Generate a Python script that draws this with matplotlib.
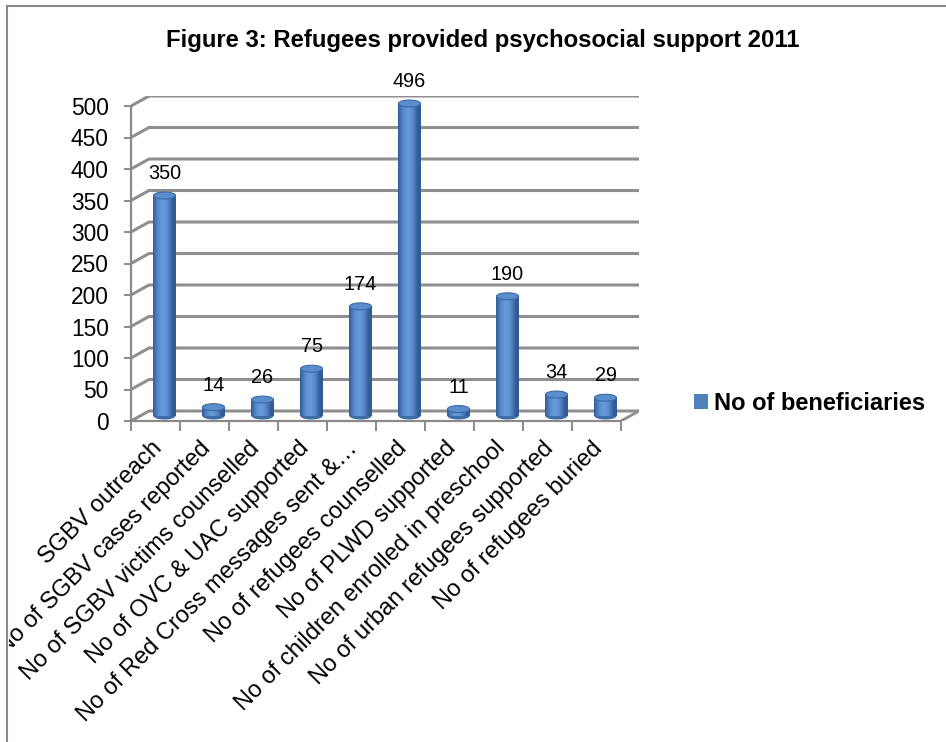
import numpy as np
import matplotlib
matplotlib.use("Agg")
import matplotlib.pyplot as plt
from matplotlib.patches import Ellipse, Patch
from matplotlib.lines import Line2D
from matplotlib.transforms import ScaledTranslation, Bbox, TransformedBbox

plt.rcParams['font.family'] = ['Liberation Sans', 'DejaVu Sans']

categories = ["SGBV outreach", "No of SGBV cases reported", "No of SGBV victims counselled",
              "No of OVC & UAC supported", "No of Red Cross messages sent &…",
              "No of refugees counselled", "No of PLWD supported",
              "No of children enrolled in preschool", "No of urban refugees supported",
              "No of refugees buried"]
values = [350, 14, 26, 75, 174, 496, 11, 190, 34, 29]
yticks = list(range(0, 501, 50))
series_name = "No of beneficiaries"
title = "Figure 3: Refugees provided psychosocial support 2011"

W, H = 946, 742
fig = plt.figure(figsize=(W / 100, H / 100), dpi=100)

# axes geometry (pixels)
x0, y0 = 131, 421          # front-bottom-left corner
ppc = 49.0                 # pixels per category
ppu = 0.63                 # pixels per unit
dpx, dpy = 18, 10          # depth offset in pixels
ddx = dpx / ppc
ddy = dpy / ppu
n = len(categories)
ax_w = n * ppc + dpx
ax_h = 500 * ppu + dpy
ax = fig.add_axes([x0 / W, (H - y0) / H, ax_w / W, ax_h / H])
ax.set_xlim(0, n + ddx)
ax.set_ylim(0, 500 + ddy)
ax.patch.set_alpha(0)

grid_c = '#8f8f8f'
# back wall gridlines + side wall diagonals
for v in yticks:
    ax.plot([0, ddx, n + ddx], [v, v + ddy, v + ddy], color=grid_c, lw=2.2,
            solid_capstyle='butt', zorder=1)
# floor
ax.plot([0, n], [0, 0], color=grid_c, lw=2.0, zorder=1)
ax.plot([n, n + ddx], [0, ddy], color=grid_c, lw=2.0, zorder=1)

for s in ['top', 'right']:
    ax.spines[s].set_visible(False)
ax.spines['left'].set_bounds(0, 500)
ax.spines['bottom'].set_bounds(0, n)
for s in ['left', 'bottom']:
    ax.spines[s].set_color('#8a8a8a')
    ax.spines[s].set_linewidth(1.6)

ax.set_yticks(yticks)
ax.set_yticklabels([str(v) for v in yticks], fontsize=16.4)
ax.tick_params(axis='y', length=5, width=1.4, color='#8a8a8a', pad=11)
ax.set_xticks(np.arange(0, n + 1))
ax.set_xticklabels([])
ax.tick_params(axis='x', length=7, width=1.4, color='#8a8a8a')

# bars (cylinders)
centers = np.arange(n) + 0.5 + ddx / 2
bw = 0.45
bars = ax.bar(centers, values, width=bw, bottom=ddy / 2, color='#4a7ebb',
              edgecolor='none', zorder=3)
shade = np.linspace(0, 1, 64)
prof = 0.55 + 0.45 * np.sin(np.pi * np.clip(shade * 1.15, 0, 1))
c_dark = np.array([0.19, 0.36, 0.58])
c_light = np.array([0.40, 0.60, 0.86])
grad = c_dark[None, :] + (c_light - c_dark)[None, :] * ((prof - prof.min()) / (prof.max() - prof.min()))[:, None]
grad = grad[None, :, :]
ell_h = 7 / ppu
for b in bars:
    bx, by, bwid, bh = b.get_x(), b.get_y(), b.get_width(), b.get_height()
    im = ax.imshow(grad, extent=[bx, bx + bwid, by, by + bh], aspect='auto',
                   zorder=3.1, interpolation='bilinear')
    im.set_clip_path(b)
    ax.add_patch(Ellipse((bx + bwid / 2, by), bwid, ell_h, facecolor='#3d6ca6',
                         edgecolor='none', zorder=2.9))
    ax.add_patch(Ellipse((bx + bwid / 2, by + bh), bwid, ell_h, facecolor='#5a8dcc',
                         edgecolor='#3c6aa3', lw=0.8, zorder=3.3))

for b, v in zip(bars, values):
    ax.annotate(str(v), (b.get_x() + b.get_width() / 2, b.get_y() + b.get_height()),
                xytext=(0, 9), textcoords='offset points', ha='center', va='bottom',
                fontsize=14.3)

# category labels (clipped at the chart frame on the left)
clip_bb = TransformedBbox(Bbox([[9 / W, 0], [1, 1]]), fig.transFigure)
off = ScaledTranslation(-6 / 100, -24 / 100, fig.dpi_scale_trans)
for c, lab in zip(centers, categories):
    t = ax.text(c, 0, lab, transform=ax.transData + off, rotation=45,
                rotation_mode='anchor', ha='right', va='center', fontsize=17, zorder=5)
    t.set_clip_box(clip_bb)
    t.set_clip_on(True)

fig.text(483 / W, 1 - 40 / H, title, ha='center', va='center', fontsize=17.2,
         fontweight='bold')

fig.legend(handles=[Patch(facecolor='#4f81bd', edgecolor='none')], labels=[series_name],
           loc='center left', bbox_to_anchor=(694 / W, 1 - 403 / H), frameon=False,
           handlelength=0.6, handleheight=0.6, handletextpad=0.25, borderpad=0,
           borderaxespad=0, prop={'weight': 'bold', 'size': 17})

# outer frame (top and left only visible)
fig.add_artist(Line2D([7 / W, 7 / W], [0, 1 - 6 / H], color='#8a8a8a', lw=1.5,
                      transform=fig.transFigure))
fig.add_artist(Line2D([7 / W, 1], [1 - 6 / H, 1 - 6 / H], color='#8a8a8a', lw=1.5,
                      transform=fig.transFigure))

fig.savefig('out.png', dpi=100, facecolor='white')
